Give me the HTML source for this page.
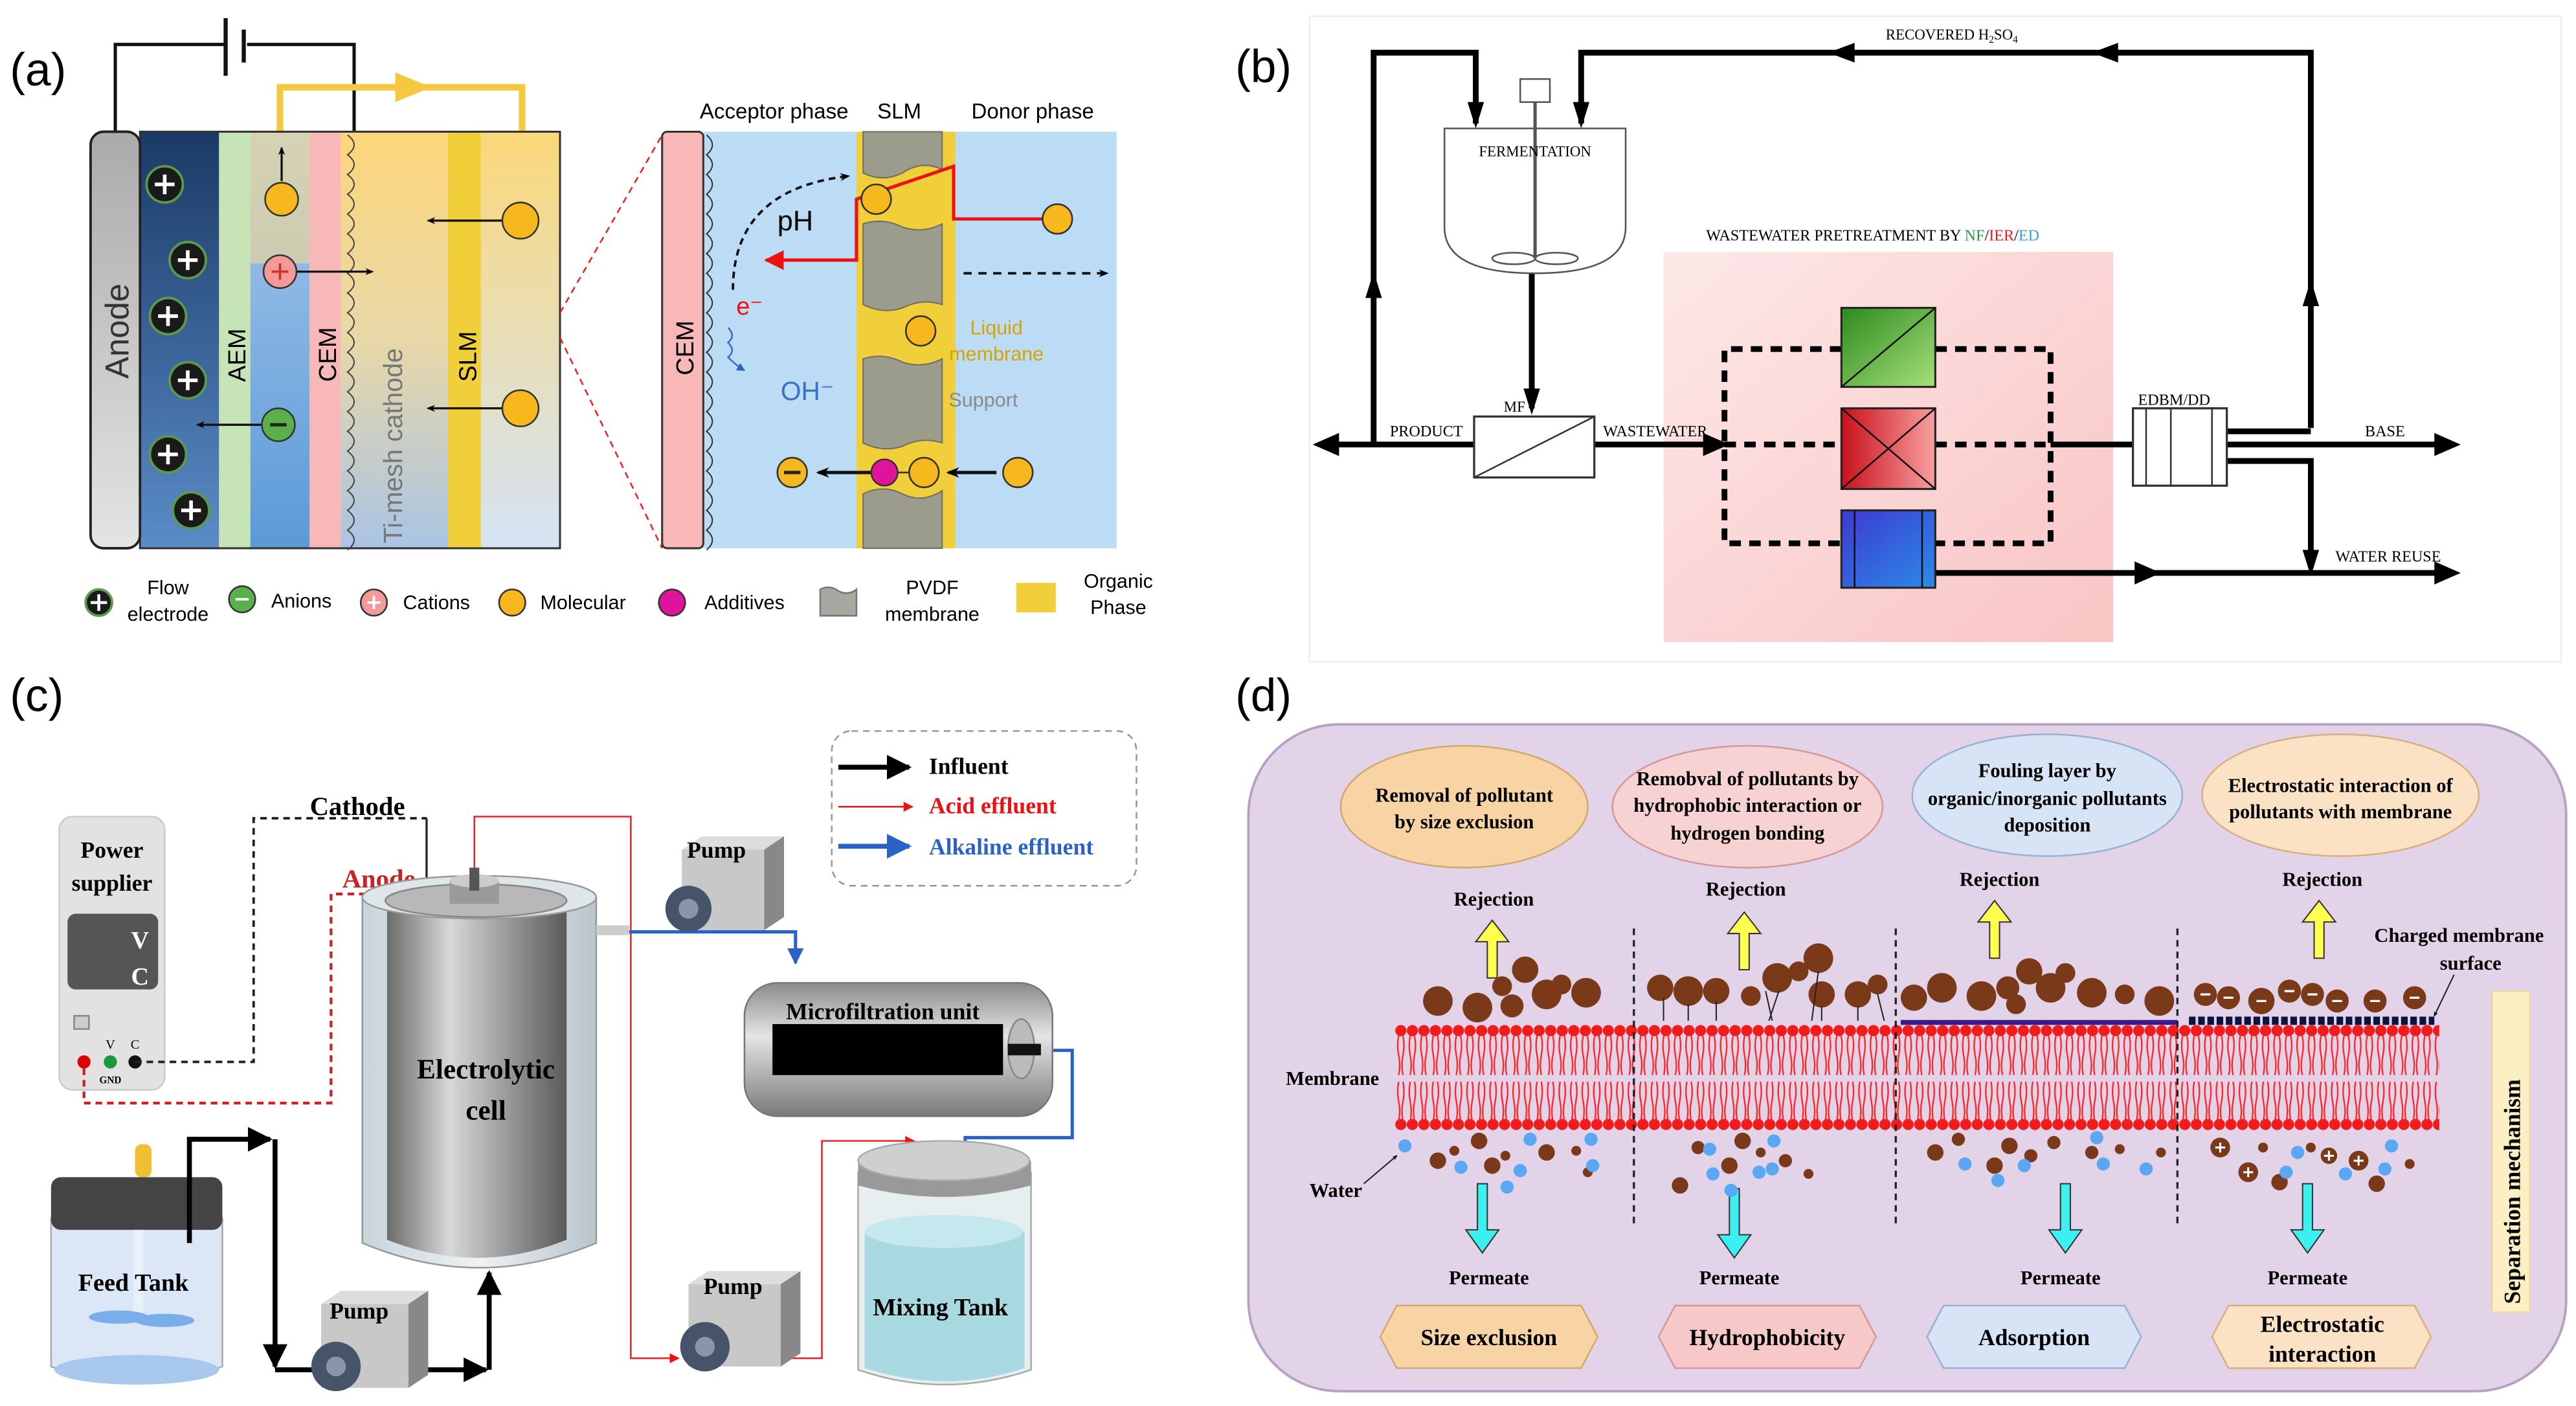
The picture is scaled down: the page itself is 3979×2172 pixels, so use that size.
<!DOCTYPE html>
<html><head><meta charset="utf-8"><style>html,body{margin:0;padding:0;background:#fff}svg{display:block}</style></head>
<body>
<svg width="3979" height="2172" viewBox="0 0 1564 854" preserveAspectRatio="none" xmlns="http://www.w3.org/2000/svg">
<defs>
<linearGradient id="navy" x1="0" y1="0" x2="0" y2="1"><stop offset="0" stop-color="#1b3a66"/><stop offset="1" stop-color="#5a8cc8"/></linearGradient>
<linearGradient id="blu" x1="0" y1="0" x2="0" y2="1"><stop offset="0" stop-color="#a8c8ea"/><stop offset="1" stop-color="#5b9ad8"/></linearGradient>
<linearGradient id="ti" x1="0" y1="0" x2="0" y2="1"><stop offset="0" stop-color="#fdd67a"/><stop offset="0.5" stop-color="#e8d8a8"/><stop offset="1" stop-color="#a9c4e4"/></linearGradient>
<linearGradient id="don" x1="0" y1="0" x2="0" y2="1"><stop offset="0" stop-color="#fbd87a"/><stop offset="1" stop-color="#d4e4f4"/></linearGradient>
<linearGradient id="anode" x1="0" y1="0" x2="0" y2="1"><stop offset="0" stop-color="#aaa"/><stop offset="1" stop-color="#e4e4e4"/></linearGradient>
<linearGradient id="pink" x1="0" y1="0" x2="1" y2="1"><stop offset="0" stop-color="#fde8e8"/><stop offset="1" stop-color="#f9c4c4"/></linearGradient>
<linearGradient id="grn" x1="0" y1="0" x2="1" y2="1"><stop offset="0" stop-color="#2d8a1e"/><stop offset="1" stop-color="#a6e07a"/></linearGradient>
<linearGradient id="red" x1="0" y1="0" x2="1" y2="0"><stop offset="0" stop-color="#c9101c"/><stop offset="1" stop-color="#f7a0a0"/></linearGradient>
<linearGradient id="bl2" x1="0" y1="0" x2="1" y2="1"><stop offset="0" stop-color="#3d3ad0"/><stop offset="1" stop-color="#2c8ae8"/></linearGradient>
<linearGradient id="cyl" x1="0" y1="0" x2="1" y2="0"><stop offset="0" stop-color="#6b6b6b"/><stop offset="0.35" stop-color="#d8d8d8"/><stop offset="1" stop-color="#5a5a5a"/></linearGradient>
<linearGradient id="cylo" x1="0" y1="0" x2="1" y2="0"><stop offset="0" stop-color="#c8d4dc"/><stop offset="0.5" stop-color="#eef2f4"/><stop offset="1" stop-color="#b8c4cc"/></linearGradient>
<linearGradient id="mf" x1="0" y1="0" x2="0" y2="1"><stop offset="0" stop-color="#8a8a8a"/><stop offset="0.4" stop-color="#e4e4e4"/><stop offset="1" stop-color="#7a7a7a"/></linearGradient>
<pattern id="lip" x="847" y="620" width="7" height="70" patternUnits="userSpaceOnUse">
<circle cx="3.5" cy="6" r="3.4" fill="#f01c1c"/><circle cx="3.5" cy="63" r="3.4" fill="#f01c1c"/>
<path d="M2.2 9 q-1.2 6 0 12 t0 12 M4.8 9 q1.2 6 0 12 t0 12 M2.2 37 q-1.2 6 0 12 t0 12 M4.8 37 q1.2 6 0 12 t0 12" stroke="#f22" stroke-width="0.9" fill="none"/>
</pattern>
<marker id="ak" viewBox="0 0 10 10" refX="9" refY="5" markerWidth="5" markerHeight="5" orient="auto"><path d="M0 0L10 5L0 10z" fill="#000"/></marker>
<marker id="ar" viewBox="0 0 10 10" refX="9" refY="5" markerWidth="6" markerHeight="6" orient="auto"><path d="M0 0L10 5L0 10z" fill="#e11"/></marker>
<marker id="ab" viewBox="0 0 10 10" refX="9" refY="5" markerWidth="5" markerHeight="5" orient="auto"><path d="M0 0L10 5L0 10z" fill="#2a62c8"/></marker>
<marker id="ac" viewBox="0 0 10 10" refX="8" refY="5" markerWidth="4" markerHeight="4" orient="auto"><path d="M0 1L10 5L0 9L3 5z" fill="#000"/></marker>
</defs>

<!-- ================= (a) ================= -->
<g font-family="Liberation Sans, sans-serif">
<text x="6" y="52" font-size="28">(a)</text>
<polyline points="70,80 70,27 136,27" fill="none" stroke="#111" stroke-width="2"/>
<polyline points="150,27 215,27 215,80" fill="none" stroke="#111" stroke-width="2"/>
<line x1="137" y1="11" x2="137" y2="46" stroke="#111" stroke-width="2.5"/>
<line x1="148" y1="18" x2="148" y2="38" stroke="#111" stroke-width="2.5"/>
<polyline points="170,80 170,53 317,53 317,80" fill="none" stroke="#f5c842" stroke-width="4"/>
<path d="M240 44 L262 53 L240 62z" fill="#f5c842"/>
<rect x="85" y="80" width="48" height="253" fill="url(#navy)"/>
<rect x="133" y="80" width="19" height="253" fill="#c6e4b6"/>
<rect x="152" y="80" width="36" height="253" fill="url(#blu)"/>
<rect x="152" y="80" width="36" height="80" fill="#f5d890" opacity="0.6"/>
<rect x="188" y="80" width="19" height="253" fill="#f8b8b8"/>
<rect x="207" y="80" width="65" height="253" fill="url(#ti)"/>
<rect x="272" y="80" width="20" height="253" fill="#f0cf3a"/>
<rect x="292" y="80" width="48" height="253" fill="url(#don)"/>
<rect x="85" y="80" width="255" height="253" fill="none" stroke="#333" stroke-width="1.2"/>
<path d="M211 82 q8 6 0 12 q8 6 0 12 q8 6 0 12 q8 6 0 12 q8 6 0 12 q8 6 0 12 q8 6 0 12 q8 6 0 12 q8 6 0 12 q8 6 0 12 q8 6 0 12 q8 6 0 12 q8 6 0 12 q8 6 0 12 q8 6 0 12 q8 6 0 12 q8 6 0 12 q8 6 0 12 q8 6 0 12 q8 6 0 12 q8 6 0 12" fill="none" stroke="#444" stroke-width="0.8"/>
<rect x="55" y="80" width="30" height="253" rx="8" fill="url(#anode)" stroke="#222" stroke-width="1.5"/>
<text transform="translate(78,230) rotate(-90)" font-size="20" fill="#333">Anode</text>
<text transform="translate(149,232) rotate(-90)" font-size="15">AEM</text>
<text transform="translate(204,232) rotate(-90)" font-size="15">CEM</text>
<text transform="translate(244,330) rotate(-90)" font-size="16" fill="#777">Ti-mesh cathode</text>
<text transform="translate(289,232) rotate(-90)" font-size="15">SLM</text>
<g fill="#1a1a1a" stroke="#5a9a4a" stroke-width="1.5">
<circle cx="100" cy="112" r="11"/><circle cx="114" cy="158" r="11"/><circle cx="102" cy="192" r="11"/><circle cx="114" cy="231" r="11"/><circle cx="102" cy="276" r="11"/><circle cx="116" cy="310" r="11"/></g>
<g stroke="#fff" stroke-width="2.2">
<path d="M94 112h12M100 106v12M108 158h12M114 152v12M96 192h12M102 186v12M108 231h12M114 225v12M96 276h12M102 270v12M110 310h12M116 304v12"/></g>
<g stroke="#111" stroke-width="1.3" fill="none">
<line x1="171" y1="110" x2="171" y2="90" marker-end="url(#ac)"/>
<line x1="180" y1="165" x2="226" y2="165" marker-end="url(#ac)"/>
<line x1="160" y1="258" x2="120" y2="258" marker-end="url(#ac)"/>
<line x1="305" y1="134" x2="260" y2="134" marker-end="url(#ac)"/>
<line x1="305" y1="248" x2="260" y2="248" marker-end="url(#ac)"/></g>
<circle cx="171" cy="121" r="10" fill="#f6b81c" stroke="#333"/>
<circle cx="170" cy="165" r="10" fill="#f49898" stroke="#333"/><path d="M165 165h10M170 160v10" stroke="#c33" stroke-width="1.5"/>
<circle cx="169" cy="258" r="10" fill="#5ab04a" stroke="#333"/><path d="M164 258h10" stroke="#222" stroke-width="2"/>
<circle cx="316" cy="134" r="11" fill="#f6b81c" stroke="#333"/>
<circle cx="316" cy="248" r="11" fill="#f6b81c" stroke="#333"/>
<!-- zoom lines -->
<line x1="340" y1="190" x2="402" y2="82" stroke="#e22" stroke-dasharray="4,3"/>
<line x1="340" y1="205" x2="402" y2="333" stroke="#e22" stroke-dasharray="4,3"/>
<!-- zoom right -->
<rect x="427" y="80" width="251" height="253" fill="#bcdcf6"/>
<rect x="520" y="80" width="60" height="253" fill="#f0cf3a"/>
<g fill="#9c9c8c" stroke="#6f6f62" stroke-width="0.8">
<path d="M524 80h48v23q-12 -6 -24 2q-12 6 -24 0z"/>
<path d="M524 136q12 -4 24 2q12 4 24 -2v49q-12 -4 -24 2q-12 4 -24 -2z"/>
<path d="M524 218q12 -4 24 2q12 4 24 -2v51q-12 -4 -24 2q-12 4 -24 -2z"/>
<path d="M524 300q12 -6 24 0q12 6 24 -2v35h-48z"/></g>
<rect x="402" y="80" width="25" height="253" rx="3" fill="#f8b8b8" stroke="#333" stroke-width="1.2"/>
<text transform="translate(421,228) rotate(-90)" font-size="15">CEM</text>
<path d="M429 82 q7 6 0 12 q7 6 0 12 q7 6 0 12 q7 6 0 12 q7 6 0 12 q7 6 0 12 q7 6 0 12 q7 6 0 12 q7 6 0 12 q7 6 0 12 q7 6 0 12 q7 6 0 12 q7 6 0 12 q7 6 0 12 q7 6 0 12 q7 6 0 12 q7 6 0 12 q7 6 0 12 q7 6 0 12 q7 6 0 12 q7 6 0 12" fill="none" stroke="#333" stroke-width="0.8"/>
<text x="470" y="72" font-size="13" text-anchor="middle">Acceptor phase</text>
<text x="546" y="72" font-size="13" text-anchor="middle">SLM</text>
<text x="627" y="72" font-size="13" text-anchor="middle">Donor phase</text>
<polyline points="642,133 579,133 579,101 520,121 520,158 465,158" fill="none" stroke="#e11" stroke-width="2" marker-end="url(#ar)"/>
<path d="M445 176 Q445 115 515 107" fill="none" stroke="#111" stroke-width="1.5" stroke-dasharray="4,3" marker-end="url(#ac)"/>
<line x1="585" y1="166" x2="672" y2="166" stroke="#111" stroke-width="1.5" stroke-dasharray="5,4" marker-end="url(#ac)"/>
<path d="M442 199 q5 5 0 9 q5 5 0 9 q5 5 10 8" fill="none" stroke="#3a6ad0" stroke-width="1" marker-end="url(#ab)"/>
<circle cx="532" cy="121" r="9" fill="#f6b81c" stroke="#333"/>
<circle cx="559" cy="201" r="9" fill="#f6b81c" stroke="#333"/>
<circle cx="642" cy="133" r="9" fill="#f6b81c" stroke="#333"/>
<text x="472" y="140" font-size="17">pH</text>
<text x="447" y="191" font-size="15" fill="#e11">e⁻</text>
<text x="474" y="243" font-size="16" fill="#3a70c8">OH⁻</text>
<text x="605" y="203" font-size="12" fill="#d8a400" text-anchor="middle">Liquid</text>
<text x="605" y="219" font-size="12" fill="#d8a400" text-anchor="middle">membrane</text>
<text x="597" y="247" font-size="12" fill="#8a8a8a" text-anchor="middle">Support</text>
<line x1="529" y1="287" x2="497" y2="287" stroke="#111" stroke-width="2" marker-end="url(#ac)"/>
<line x1="605" y1="287" x2="576" y2="287" stroke="#111" stroke-width="2" marker-end="url(#ac)"/>
<circle cx="481" cy="287" r="9" fill="#f6b81c" stroke="#333"/><path d="M476 287h10" stroke="#222" stroke-width="2"/>
<line x1="537" y1="287" x2="561" y2="287" stroke="#333"/>
<circle cx="537" cy="287" r="8" fill="#e0149c" stroke="#333"/>
<circle cx="561" cy="287" r="9" fill="#f6b81c" stroke="#333"/>
<circle cx="618" cy="287" r="9" fill="#f6b81c" stroke="#333"/>
<!-- legend -->
<circle cx="60" cy="366" r="8" fill="#1a1a1a" stroke="#5a9a4a" stroke-width="1.5"/><path d="M55 366h10M60 361v10" stroke="#fff" stroke-width="1.8"/>
<text x="102" y="361" font-size="12" text-anchor="middle">Flow</text><text x="102" y="377" font-size="12" text-anchor="middle">electrode</text>
<circle cx="147" cy="364" r="8" fill="#5ab04a" stroke="#333"/><path d="M143 364h8" stroke="#fff" stroke-width="1.5"/>
<text x="183" y="369" font-size="12" text-anchor="middle">Anions</text>
<circle cx="227" cy="366" r="8" fill="#f49898" stroke="#333"/><path d="M223 366h8M227 362v8" stroke="#fff" stroke-width="1.5"/>
<text x="265" y="370" font-size="12" text-anchor="middle">Cations</text>
<circle cx="311" cy="366" r="8" fill="#f6b81c" stroke="#333"/>
<text x="354" y="370" font-size="12" text-anchor="middle">Molecular</text>
<circle cx="408" cy="366" r="8" fill="#e0149c" stroke="#333"/>
<text x="452" y="370" font-size="12" text-anchor="middle">Additives</text>
<path d="M498 358q6 -3 11 1q6 3 11 -1v16h-22z" fill="#a8a8a0" stroke="#777"/>
<text x="566" y="361" font-size="12" text-anchor="middle">PVDF</text><text x="566" y="377" font-size="12" text-anchor="middle">membrane</text>
<rect x="617" y="354" width="24" height="18" fill="#f0cf3a"/>
<text x="679" y="357" font-size="12" text-anchor="middle">Organic</text><text x="679" y="373" font-size="12" text-anchor="middle">Phase</text>
</g>

<!-- ================= (b) ================= -->
<g font-family="Liberation Serif, serif">
<text x="750" y="50" font-size="28" font-family="Liberation Sans, sans-serif">(b)</text>
<rect x="795" y="10" width="760" height="392" fill="none" stroke="#eee"/>
<rect x="1010" y="153" width="273" height="237" fill="url(#pink)"/>
<text x="1137" y="146" font-size="9.5" text-anchor="middle">WASTEWATER PRETREATMENT BY <tspan fill="#2a9a4a">NF</tspan>/<tspan fill="#d22">IER</tspan>/<tspan fill="#3aa0d8">ED</tspan></text>
<text x="1185" y="24" font-size="9" text-anchor="middle">RECOVERED H<tspan font-size="6" dy="2">2</tspan><tspan dy="-2">SO</tspan><tspan font-size="6" dy="2">4</tspan></text>
<g fill="none" stroke="#000" stroke-width="3.5">
<polyline points="1403,260 1403,32 960,32 960,75"/>
<polyline points="834,270 834,32 896,32 896,75"/>
<line x1="930" y1="165" x2="930" y2="248"/>
<line x1="803" y1="270" x2="895" y2="270"/>
<line x1="968" y1="270" x2="1045" y2="270"/>
<line x1="1245" y1="270" x2="1295" y2="270"/>
<polyline points="1352,262 1403,262"/>
<line x1="1352" y1="270" x2="1488" y2="270"/>
<polyline points="1352,280 1403,280 1403,345"/>
<line x1="1175" y1="348" x2="1488" y2="348"/>
</g>
<g fill="none" stroke="#000" stroke-width="3.5" stroke-dasharray="7,5">
<polyline points="1118,212 1047,212 1047,330 1118,330"/>
<polyline points="1175,212 1245,212 1245,330 1175,330"/>
<line x1="1047" y1="270" x2="1118" y2="270"/><line x1="1175" y1="270" x2="1245" y2="270"/>
</g>
<g fill="#000">
<path d="M1110 32l16 -6v12z"/><path d="M1270 32l16 -6v12z"/>
<path d="M896 78l-5 -16h10z"/><path d="M960 78l-5 -16h10z"/>
<path d="M834 165l-5 16h10z"/><path d="M1403 170l-5 16h10z"/>
<path d="M930 252l-5 -16h10z"/><path d="M797 270l16 -7v14z"/>
<path d="M1050 270l-16 -7v14z"/><path d="M1494 270l-16 -7v14z"/>
<path d="M1494 348l-16 -7v14z"/><path d="M1312 348l-16 -7v14z"/><path d="M1403 350l-5 -16h10z"/>
</g>
<path d="M877 78v60q0 28 55 28q55 0 55 -28v-60z" fill="#fff" stroke="#555"/>
<rect x="923" y="48" width="18" height="14" fill="#fff" stroke="#555"/>
<line x1="932" y1="62" x2="932" y2="157" stroke="#555" stroke-width="2"/>
<ellipse cx="919" cy="157" rx="13" ry="3.5" fill="none" stroke="#555"/><ellipse cx="945" cy="157" rx="13" ry="3.5" fill="none" stroke="#555"/>
<text x="932" y="95" font-size="9" text-anchor="middle">FERMENTATION</text>
<rect x="895" y="253" width="73" height="37" fill="#fff" stroke="#333" stroke-width="1.3"/><line x1="895" y1="290" x2="968" y2="253" stroke="#333"/>
<text x="913" y="250" font-size="9">MF</text>
<text x="866" y="265" font-size="9.5" text-anchor="middle">PRODUCT</text>
<text x="1005" y="265" font-size="9.5" text-anchor="middle">WASTEWATER</text>
<text x="1320" y="246" font-size="9.5" text-anchor="middle">EDBM/DD</text>
<text x="1448" y="265" font-size="9.5" text-anchor="middle">BASE</text>
<text x="1450" y="341" font-size="9.5" text-anchor="middle">WATER REUSE</text>
<rect x="1295" y="248" width="57" height="47" fill="#fff" stroke="#333" stroke-width="1.3"/>
<path d="M1303 248v47M1318 248v47M1343 248v47" stroke="#333"/>
<rect x="1118" y="187" width="57" height="48" fill="url(#grn)" stroke="#222" stroke-width="1.2"/><line x1="1118" y1="235" x2="1175" y2="187" stroke="#111"/>
<rect x="1118" y="248" width="57" height="49" fill="url(#red)" stroke="#222" stroke-width="1.2"/><path d="M1118 248L1175 297M1175 248L1118 297" stroke="#111"/>
<rect x="1118" y="310" width="57" height="47" fill="url(#bl2)" stroke="#222" stroke-width="1.2"/><path d="M1126 310v47M1167 310v47" stroke="#111"/>
</g>

<!-- ================= (c) ================= -->
<g font-family="Liberation Serif, serif" font-weight="bold">
<text x="6" y="432" font-size="28" font-weight="normal" font-family="Liberation Sans, sans-serif">(c)</text>
<rect x="505" y="444" width="185" height="94" rx="12" fill="none" stroke="#999" stroke-dasharray="4,3"/>
<line x1="509" y1="466" x2="552" y2="466" stroke="#000" stroke-width="3" marker-end="url(#ak)"/>
<text x="564" y="470" font-size="14">Influent</text>
<line x1="509" y1="490" x2="554" y2="490" stroke="#e11" stroke-width="1" marker-end="url(#ar)"/>
<text x="564" y="494" font-size="14" fill="#e11">Acid effluent</text>
<line x1="509" y1="514" x2="552" y2="514" stroke="#2a62c8" stroke-width="3" marker-end="url(#ab)"/>
<text x="564" y="519" font-size="14" fill="#2a62c8">Alkaline effluent</text>
<!-- power supply -->
<rect x="36" y="496" width="64" height="166" rx="8" fill="#e2e2e2" stroke="#ccc"/>
<text x="68" y="521" font-size="14" text-anchor="middle">Power</text>
<text x="68" y="541" font-size="14" text-anchor="middle">supplier</text>
<rect x="41" y="555" width="55" height="46" rx="5" fill="#555"/>
<text x="85" y="576" font-size="15" fill="#fff" text-anchor="middle">V</text><text x="85" y="598" font-size="15" fill="#fff" text-anchor="middle">C</text>
<rect x="45" y="617" width="9" height="8" fill="#ccc" stroke="#888"/>
<text x="67" y="637" font-size="8" font-weight="normal" text-anchor="middle">V</text><text x="82" y="637" font-size="8" font-weight="normal" text-anchor="middle">C</text>
<circle cx="51" cy="645" r="4" fill="#d00"/><circle cx="67" cy="645" r="4" fill="#1a9a3a"/><circle cx="82" cy="645" r="4" fill="#111"/>
<text x="67" y="658" font-size="6" text-anchor="middle">GND</text>
<polyline points="82,645 154,645 154,497 259,497" fill="none" stroke="#222" stroke-width="1.5" stroke-dasharray="4,3"/>
<line x1="259" y1="497" x2="259" y2="540" stroke="#222" stroke-width="1.3"/>
<polyline points="51,649 51,670 201,670 201,543 287,543" fill="none" stroke="#c22" stroke-width="1.7" stroke-dasharray="4,3"/>
<text x="217" y="495" font-size="16" text-anchor="middle">Cathode</text>
<text x="230" y="539" font-size="16" fill="#c22" text-anchor="middle">Anode</text>
<!-- electrolytic cell -->
<path d="M220 545v210q71 30 142 0v-210z" fill="url(#cylo)" stroke="#999"/>
<path d="M235 548v205q55 22 109 0v-205z" fill="url(#cyl)"/>
<ellipse cx="291" cy="545" rx="71" ry="13" fill="#dfe6ea" stroke="#999"/>
<ellipse cx="289" cy="547" rx="55" ry="10" fill="#b8b8b8" stroke="#888"/>
<rect x="273" y="535" width="30" height="14" fill="#9a9a9a"/><ellipse cx="288" cy="535" rx="15" ry="4" fill="#ccc"/>
<rect x="285" y="527" width="6" height="14" fill="#555"/>
<text x="295" y="655" font-size="17" text-anchor="middle">Electrolytic</text>
<text x="295" y="680" font-size="17" text-anchor="middle">cell</text>
<rect x="362" y="562" width="20" height="6" fill="#ccc"/>
<!-- acid lines -->
<polyline points="288,527 288,496 383,496 383,825 412,825" fill="none" stroke="#e22" stroke-width="1" marker-end="url(#ar)"/>
<polyline points="455,825 499,825 499,693 555,693" fill="none" stroke="#e22" stroke-width="1" marker-end="url(#ar)"/>
<line x1="556" y1="693" x2="556" y2="763" stroke="#e22" stroke-width="1" marker-end="url(#ar)"/>
<!-- blue lines -->
<polyline points="382,566 483,566 483,585" fill="none" stroke="#2a62c8" stroke-width="2" marker-end="url(#ab)"/>
<polyline points="630,638 651,638 651,691 586,691 586,765" fill="none" stroke="#2a62c8" stroke-width="2" marker-end="url(#ab)"/>
<!-- microfiltration -->
<rect x="452" y="597" width="187" height="81" rx="20" fill="url(#mf)" stroke="#777"/>
<rect x="469" y="622" width="140" height="31" fill="#000"/>
<ellipse cx="620" cy="637" rx="8" ry="18" fill="#bbb" stroke="#888"/>
<rect x="612" y="634" width="20" height="7" fill="#111"/>
<text x="536" y="619" font-size="14" text-anchor="middle">Microfiltration unit</text>
<!-- mixing tank -->
<path d="M521 712v120q52 18 105 0v-120z" fill="#e6eef0" stroke="#aaa"/>
<path d="M525 748v83q50 16 97 0v-83z" fill="#a8d8e0"/>
<ellipse cx="573" cy="748" rx="48" ry="10" fill="#c4e8ee"/>
<path d="M521 705v15q52 14 105 0v-15z" fill="#999"/>
<ellipse cx="573" cy="705" rx="52" ry="12" fill="#cfcfcf" stroke="#aaa"/>
<text x="571" y="799" font-size="15" text-anchor="middle">Mixing Tank</text>
<!-- feed tank -->
<path d="M31 740v90q52 20 104 0v-90z" fill="#dbe6f6" stroke="#aaa"/>
<ellipse cx="83" cy="832" rx="50" ry="9" fill="#a8c8ee"/>
<rect x="31" y="715" width="104" height="32" rx="6" fill="#444"/>
<rect x="82" y="695" width="10" height="20" rx="4" fill="#f0c030"/>
<path d="M81 747h6v50q-3 8 -6 0z" fill="#e8f0fa"/>
<ellipse cx="72" cy="800" rx="18" ry="4" fill="#7aaeea"/><ellipse cx="100" cy="802" rx="18" ry="4" fill="#7aaeea"/>
<text x="81" y="784" font-size="15" text-anchor="middle">Feed Tank</text>
<!-- influent -->
<polyline points="115,755 115,692 164,692" fill="none" stroke="#000" stroke-width="3" marker-end="url(#ak)"/>
<polyline points="167,692 167,830" fill="none" stroke="#000" stroke-width="3" marker-end="url(#ak)"/>
<polyline points="167,832 295,832" fill="none" stroke="#000" stroke-width="3" marker-end="url(#ak)"/>
<polyline points="297,832 297,773" fill="none" stroke="#000" stroke-width="3" marker-end="url(#ak)"/>
<!-- pumps -->
<g>
<path d="M414 516l12 -8h50l-12 8z" fill="#ddd"/><rect x="414" y="516" width="50" height="49" fill="#c8c8c8"/><path d="M464 516l12 -8v49l-12 8z" fill="#888"/>
<circle cx="418" cy="552" r="14" fill="#46546a"/><circle cx="418" cy="552" r="6" fill="#8a96a8"/>
<text x="435" y="521" font-size="14" text-anchor="middle">Pump</text>
</g>
<g>
<path d="M195 792l12 -8h53l-12 8z" fill="#ddd"/><rect x="195" y="792" width="53" height="51" fill="#c8c8c8"/><path d="M248 792l12 -8v51l-12 8z" fill="#888"/>
<circle cx="204" cy="830" r="15" fill="#46546a"/><circle cx="204" cy="830" r="6" fill="#8a96a8"/>
<text x="218" y="801" font-size="14" text-anchor="middle">Pump</text>
</g>
<g>
<path d="M418 780l12 -8h56l-12 8z" fill="#ddd"/><rect x="418" y="780" width="56" height="50" fill="#c8c8c8"/><path d="M474 780l12 -8v50l-12 8z" fill="#888"/>
<circle cx="428" cy="818" r="15" fill="#46546a"/><circle cx="428" cy="818" r="6" fill="#8a96a8"/>
<text x="445" y="786" font-size="14" text-anchor="middle">Pump</text>
</g>
</g>

<!-- ================= (d) ================= -->
<g font-family="Liberation Serif, serif" font-weight="bold">
<text x="750" y="432" font-size="28" font-weight="normal" font-family="Liberation Sans, sans-serif">(d)</text>
<rect x="758" y="440" width="800" height="405" rx="55" fill="#e3d3e8" stroke="#b8a0c4" stroke-width="1.5"/>
<ellipse cx="889" cy="490" rx="75" ry="37" fill="#f8d3a4" stroke="#d2a870"/>
<ellipse cx="1061" cy="490" rx="82" ry="37" fill="#f6d2d2" stroke="#d49898"/>
<ellipse cx="1243" cy="483" rx="82" ry="37" fill="#d6e4f6" stroke="#9ab0d4"/>
<ellipse cx="1421" cy="483" rx="84" ry="37" fill="#fbe2c4" stroke="#d8b080"/>
<g font-size="12" text-anchor="middle">
<text x="889" y="487">Removal of pollutant</text><text x="889" y="503">by size exclusion</text>
<text x="1061" y="477">Remobval of pollutants by</text><text x="1061" y="493">hydrophobic interaction or</text><text x="1061" y="510">hydrogen bonding</text>
<text x="1243" y="472">Fouling layer by</text><text x="1243" y="489">organic/inorganic pollutants</text><text x="1243" y="505">deposition</text>
<text x="1421" y="481">Electrostatic interaction of</text><text x="1421" y="497">pollutants with membrane</text>
<text x="907" y="550">Rejection</text><text x="1060" y="544">Rejection</text><text x="1214" y="538">Rejection</text><text x="1410" y="538">Rejection</text>
<text x="904" y="780">Permeate</text><text x="1056" y="780">Permeate</text><text x="1251" y="780">Permeate</text><text x="1401" y="780">Permeate</text>
</g>
<g fill="#ffff50" stroke="#333" stroke-width="0.8">
<path d="M903 594v-22h-7l10 -13l10 13h-7v22z"/>
<path d="M1056 589v-22h-7l10 -13l10 13h-7v22z"/>
<path d="M1208 582v-22h-7l10 -13l10 13h-7v22z"/>
<path d="M1405 582v-22h-7l10 -13l10 13h-7v22z"/>
</g>
<g fill="#3cf0f0" stroke="#333" stroke-width="0.8">
<path d="M897 719v28h-7l10 14l10 -14h-7v-28z"/>
<path d="M1050 722v28h-7l10 14l10 -14h-7v-28z"/>
<path d="M1251 719v28h-7l10 14l10 -14h-7v-28z"/>
<path d="M1398 719v28h-7l10 14l10 -14h-7v-28z"/>
</g>
<rect x="847" y="620" width="634" height="70" fill="url(#lip)"/>
<line x1="1154" y1="621" x2="1322" y2="621" stroke="#3a1a8a" stroke-width="3"/>
<line x1="1329" y1="620" x2="1478" y2="620" stroke="#0a1440" stroke-width="5" stroke-dasharray="4,1.6"/>
<g stroke="#222" stroke-width="1.3" stroke-dasharray="4,3">
<line x1="992" y1="564" x2="992" y2="744"/><line x1="1151" y1="564" x2="1151" y2="744"/><line x1="1322" y1="564" x2="1322" y2="744"/></g>
<g fill="#7a3a1a">
<circle cx="873" cy="608" r="9"/><circle cx="897" cy="612" r="9"/><circle cx="912" cy="599" r="6"/><circle cx="926" cy="589" r="8"/><circle cx="939" cy="604" r="9"/><circle cx="948" cy="598" r="6"/><circle cx="963" cy="603" r="9"/><circle cx="918" cy="611" r="7"/>
<circle cx="1008" cy="600" r="8"/><circle cx="1025" cy="602" r="9"/><circle cx="1042" cy="602" r="8"/><circle cx="1063" cy="605" r="6"/><circle cx="1079" cy="594" r="9"/><circle cx="1092" cy="590" r="6"/><circle cx="1104" cy="582" r="9"/><circle cx="1106" cy="604" r="8"/><circle cx="1128" cy="604" r="8"/><circle cx="1140" cy="598" r="6"/>
<circle cx="1162" cy="606" r="8"/><circle cx="1179" cy="600" r="9"/><circle cx="1203" cy="605" r="9"/><circle cx="1219" cy="600" r="7"/><circle cx="1232" cy="590" r="8"/><circle cx="1245" cy="600" r="9"/><circle cx="1254" cy="591" r="6"/><circle cx="1270" cy="603" r="9"/><circle cx="1290" cy="604" r="6"/><circle cx="1311" cy="608" r="9"/><circle cx="1224" cy="610" r="6"/>
<circle cx="1339" cy="604" r="7"/><circle cx="1353" cy="606" r="7"/><circle cx="1373" cy="608" r="8"/><circle cx="1390" cy="602" r="7"/><circle cx="1404" cy="604" r="7"/><circle cx="1419" cy="608" r="7"/><circle cx="1442" cy="608" r="7"/><circle cx="1466" cy="606" r="7"/>
</g>
<g stroke="#fff" stroke-width="1.3"><path d="M1336 604h6M1350 606h6M1370 608h6M1387 602h6M1401 604h6M1416 608h6M1439 608h6M1463 606h6"/></g>
<g stroke="#222" stroke-width="0.8"><path d="M1010 606v14M1025 610v10M1042 608v12M1072 602l4 18M1080 602l-6 18M1104 590l-4 30M1106 611v9M1128 611v9M1140 604l4 16"/></g>
<g fill="#7a3a1a">
<circle cx="898" cy="693" r="5"/><circle cx="873" cy="705" r="5"/><circle cx="883" cy="699" r="3"/><circle cx="906" cy="708" r="5"/><circle cx="914" cy="702" r="3"/><circle cx="939" cy="700" r="5"/><circle cx="957" cy="699" r="3"/><circle cx="964" cy="712" r="3"/>
<circle cx="1020" cy="720" r="5"/><circle cx="1031" cy="697" r="4"/><circle cx="1050" cy="708" r="5"/><circle cx="1058" cy="693" r="5"/><circle cx="1069" cy="700" r="3"/><circle cx="1084" cy="705" r="4"/><circle cx="1098" cy="713" r="3"/>
<circle cx="1175" cy="700" r="5"/><circle cx="1189" cy="692" r="4"/><circle cx="1211" cy="708" r="5"/><circle cx="1220" cy="696" r="5"/><circle cx="1233" cy="702" r="4"/><circle cx="1247" cy="694" r="4"/><circle cx="1270" cy="700" r="4"/><circle cx="1287" cy="698" r="3"/><circle cx="1312" cy="700" r="3"/>
<circle cx="1348" cy="697" r="6"/><circle cx="1365" cy="712" r="6"/><circle cx="1374" cy="697" r="3"/><circle cx="1384" cy="718" r="5"/><circle cx="1403" cy="697" r="3"/><circle cx="1414" cy="702" r="5"/><circle cx="1432" cy="705" r="6"/><circle cx="1443" cy="719" r="5"/><circle cx="1463" cy="707" r="3"/>
</g>
<g stroke="#fff" stroke-width="1.2"><path d="M1345 697h6M1348 694v6M1362 712h6M1365 709v6M1411 702h6M1414 699v6M1429 705h6M1432 702v6"/></g>
<g fill="#5aa8f4">
<circle cx="853" cy="696" r="4"/><circle cx="887" cy="709" r="4"/><circle cx="923" cy="711" r="4"/><circle cx="915" cy="721" r="4"/><circle cx="929" cy="692" r="4"/><circle cx="966" cy="692" r="4"/><circle cx="967" cy="708" r="4"/>
<circle cx="1038" cy="698" r="4"/><circle cx="1040" cy="713" r="4"/><circle cx="1068" cy="712" r="4"/><circle cx="1077" cy="693" r="4"/><circle cx="1076" cy="710" r="4"/><circle cx="1051" cy="723" r="4"/>
<circle cx="1193" cy="707" r="4"/><circle cx="1229" cy="708" r="4"/><circle cx="1213" cy="717" r="4"/><circle cx="1277" cy="707" r="4"/><circle cx="1303" cy="710" r="4"/><circle cx="1273" cy="691" r="4"/>
<circle cx="1395" cy="700" r="4"/><circle cx="1388" cy="712" r="4"/><circle cx="1424" cy="713" r="4"/><circle cx="1452" cy="696" r="4"/><circle cx="1448" cy="710" r="4"/>
</g>
<text x="809" y="659" font-size="12" text-anchor="middle">Membrane</text>
<text x="811" y="727" font-size="12" text-anchor="middle">Water</text>
<line x1="828" y1="719" x2="848" y2="702" stroke="#222" stroke-width="0.8" marker-end="url(#ac)"/>
<text x="1493" y="572" font-size="12" text-anchor="middle">Charged membrane</text>
<text x="1500" y="589" font-size="12" text-anchor="middle">surface</text>
<line x1="1490" y1="592" x2="1478" y2="617" stroke="#222" stroke-width="0.8" marker-end="url(#ac)"/>
<path d="M838 812l10 -19h112l10 19l-10 19h-112z" fill="#f8d3a4" stroke="#d2a870"/>
<path d="M1007 812l10 -19h112l10 19l-10 19h-112z" fill="#f6c8c8" stroke="#d49898"/>
<path d="M1170 812l10 -19h110l10 19l-10 19h-110z" fill="#d6e4f6" stroke="#9ab0d4"/>
<path d="M1343 812l10 -19h113l10 19l-10 19h-113z" fill="#fbe2c4" stroke="#d8b080"/>
<g font-size="14" text-anchor="middle">
<text x="904" y="817">Size exclusion</text><text x="1073" y="817">Hydrophobicity</text><text x="1235" y="817">Adsorption</text>
<text x="1410" y="809">Electrostatic</text><text x="1410" y="827">interaction</text></g>
<rect x="1513" y="602" width="23" height="195" fill="#fdefc4" stroke="#e8d8a0"/>
<text transform="translate(1530,792) rotate(-90)" font-size="14">Separation mechanism</text>
</g>
</svg>
</body></html>
